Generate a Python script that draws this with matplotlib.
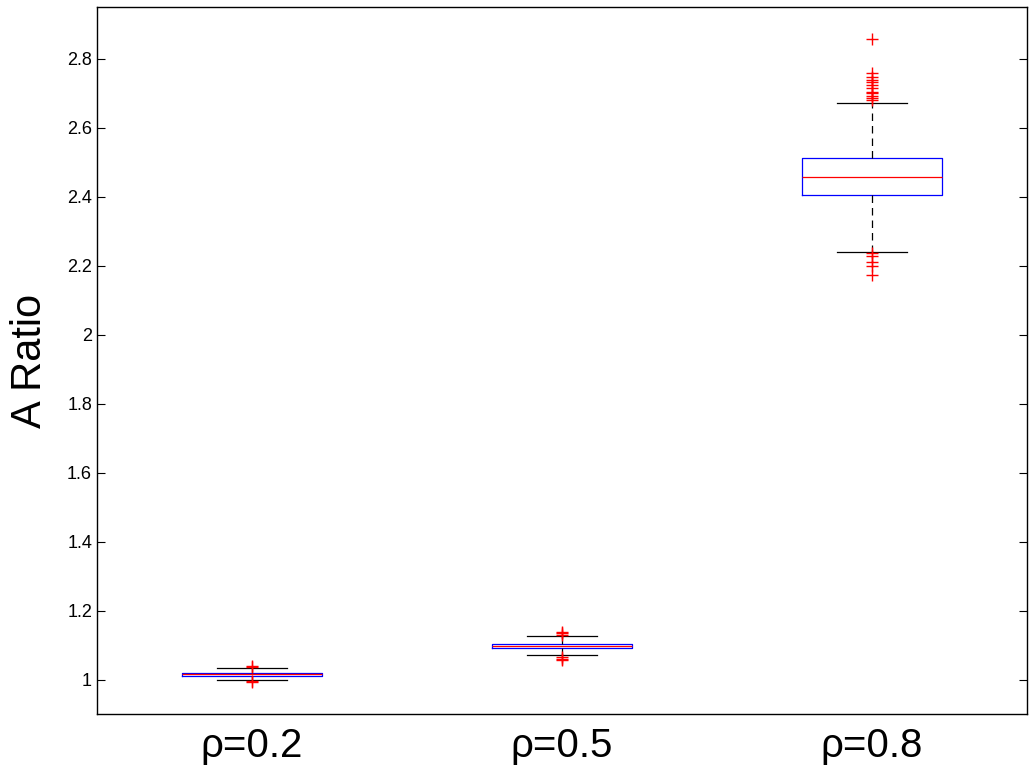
import matplotlib
matplotlib.use("Agg")
import matplotlib.pyplot as plt

plt.rcParams["font.family"] = ["Liberation Sans", "DejaVu Sans"]

# box statistics
labels = ["ρ=0.2", "ρ=0.5", "ρ=0.8"]
medians = [1.015, 1.097, 2.458]
q1 = [1.011, 1.090, 2.405]
q3 = [1.019, 1.104, 2.512]
whislo = [0.998, 1.070, 2.241]
whishi = [1.032, 1.126, 2.673]
fliers = [
    [1.036, 1.040, 0.995, 0.992],
    [1.130, 1.134, 1.138, 1.064, 1.060, 1.056],
    [2.858, 2.759, 2.748, 2.739, 2.734, 2.725, 2.715, 2.705, 2.700, 2.693,
     2.686, 2.681, 2.237, 2.229, 2.210, 2.200, 2.172],
]

stats = []
for i in range(len(labels)):
    stats.append({
        "label": labels[i],
        "med": medians[i],
        "q1": q1[i],
        "q3": q3[i],
        "whislo": whislo[i],
        "whishi": whishi[i],
        "fliers": fliers[i],
    })

fig = plt.figure(figsize=(10.36, 7.73), dpi=100)
ax = fig.add_axes([0.0936, 0.0763, 0.8977, 0.9146])

ax.bxp(
    stats,
    positions=[1, 2, 3],
    widths=0.45,
    showfliers=True,
    boxprops=dict(color="blue", linewidth=0.9),
    medianprops=dict(color="red", linewidth=0.9),
    whiskerprops=dict(color="black", linewidth=0.9, linestyle=(0, (6, 4))),
    capprops=dict(color="black", linewidth=0.9),
    capwidths=0.225,
    flierprops=dict(marker="+", markeredgecolor="red", markersize=9,
                    markeredgewidth=1.0, linestyle="none"),
)

ax.set_xlim(0.5, 3.5)
ax.set_ylim(0.9, 2.95)
ax.set_yticks([1, 1.2, 1.4, 1.6, 1.8, 2, 2.2, 2.4, 2.6, 2.8])
ax.set_yticklabels(["1", "1.2", "1.4", "1.6", "1.8", "2", "2.2", "2.4", "2.6", "2.8"])
ax.tick_params(axis="y", direction="in", left=True, right=True, labelsize=13, length=6)
ax.tick_params(axis="x", length=0, labelsize=29, pad=9)
ax.set_ylabel("A Ratio", fontsize=30, labelpad=12)

for s in ax.spines.values():
    s.set_linewidth(1.0)

fig.savefig("out.png", dpi=100)
